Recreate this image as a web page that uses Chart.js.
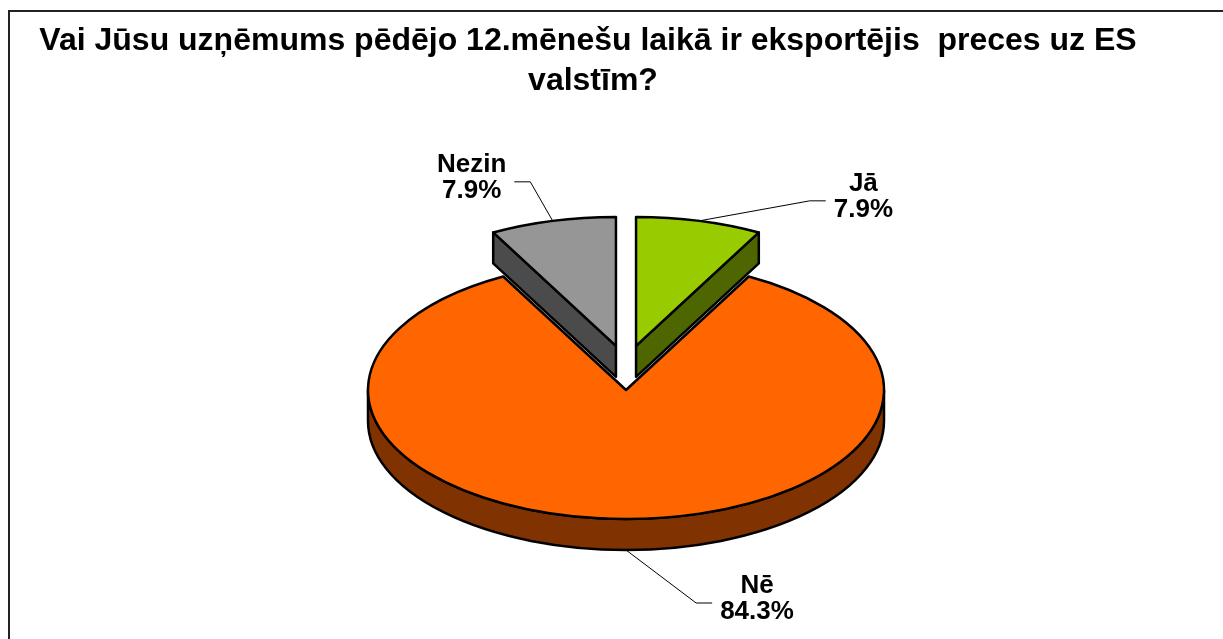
<!DOCTYPE html>
<html>
<head>
<meta charset="utf-8">
<script src="https://cdn.jsdelivr.net/npm/chart.js@4.4.1/dist/chart.umd.min.js"></script>
<style>
html,body{margin:0;padding:0;background:#fff;}
#wrap{width:1223px;height:639px;position:relative;}
</style>
</head>
<body>
<div id="wrap"><canvas id="c" width="1223" height="639"></canvas></div>
<script>
// ---- data ----
const titleLines = ['Vai Jūsu uzņēmums pēdējo 12.mēnešu laikā ir eksportējis  preces uz ES', 'valstīm?'];
const categories = ['Jā', 'Nē', 'Nezin'];
const values = [7.9, 84.3, 7.9];
const valueLabels = ['7.9%', '84.3%', '7.9%'];

// ---- styles ----
const topColors = ['#99CC00', '#FF6600', '#969696'];
const sideColors = ['#4D6600', '#803300', '#4B4B4B'];
const TILT = 0.5;        // vertical squash of the pie plane
const DEPTH = 31;        // thickness of the pie
const EXPLODE_X = 0.45;  // perspective factor for horizontal explosion
const labelShift = [[164, -24], [131, 49], [-81, -43]]; // label centre relative to slice anchor
const LABEL_FONT = 'bold 26px "Liberation Sans", Arial, sans-serif';
const LINE_H = 26;

function sliceGeom(arc) {
  const s = arc.startAngle, e = arc.endAngle, R = arc.outerRadius;
  const off = arc.options.offset || 0;
  const mid = (s + e) / 2;
  const cx = arc.x + off * Math.cos(mid) * EXPLODE_X;
  const cy = arc.y + off * Math.sin(mid) * TILT;
  return {s, e, R, mid, cx, cy, off};
}
function rim(g, a, dz) {
  return [g.cx + g.R * Math.cos(a), g.cy + TILT * g.R * Math.sin(a) + (dz || 0)];
}

const pie3d = {
  id: 'pie3d',
  beforeDatasetsDraw(chart) {
    const ctx = chart.ctx;
    const meta = chart.getDatasetMeta(0);
    const order = meta.data.map((a, i) => i).sort((a, b) =>
      (meta.data[a].options.offset || 0) - (meta.data[b].options.offset || 0));
    ctx.save();
    ctx.lineWidth = 2.5;
    ctx.lineJoin = 'round';
    ctx.strokeStyle = '#000';
    order.forEach(i => {
      const g = sliceGeom(meta.data[i]);
      const ry = TILT * g.R;
      // outer front wall
      for (let k = -1; k <= 1; k++) {
        const lo = Math.max(g.s, k * 2 * Math.PI), hi = Math.min(g.e, k * 2 * Math.PI + Math.PI);
        if (hi > lo) {
          ctx.beginPath();
          ctx.ellipse(g.cx, g.cy, g.R, ry, 0, lo, hi, false);
          ctx.ellipse(g.cx, g.cy + DEPTH, g.R, ry, 0, hi, lo, true);
          ctx.closePath();
          ctx.fillStyle = sideColors[i];
          ctx.fill();
          ctx.stroke();
        }
      }
      // radial walls
      [[g.s, g.s - Math.PI / 2], [g.e, g.e + Math.PI / 2]].forEach(([a, n]) => {
        if (Math.sin(n) > 1e-6) {
          const p = rim(g, a, 0), q = rim(g, a, DEPTH);
          ctx.beginPath();
          ctx.moveTo(g.cx, g.cy);
          ctx.lineTo(p[0], p[1]);
          ctx.lineTo(q[0], q[1]);
          ctx.lineTo(g.cx, g.cy + DEPTH);
          ctx.closePath();
          ctx.fillStyle = sideColors[i];
          ctx.fill();
          ctx.stroke();
        }
      });
      // top face
      ctx.beginPath();
      ctx.moveTo(g.cx, g.cy);
      ctx.ellipse(g.cx, g.cy, g.R, ry, 0, g.s, g.e, false);
      ctx.closePath();
      ctx.fillStyle = topColors[i];
      ctx.fill();
      ctx.stroke();
    });

    // labels with leader lines
    ctx.font = LABEL_FONT;
    ctx.textAlign = 'center';
    ctx.textBaseline = 'middle';
    meta.data.forEach((arc, i) => {
      const g = sliceGeom(arc);
      const front = Math.sin(g.mid) > 0;
      const anchor = rim(g, g.mid, front ? DEPTH : 0);
      const lx = anchor[0] + labelShift[i][0], ly = anchor[1] + labelShift[i][1];
      const lines = [categories[i], valueLabels[i]];
      const half = Math.max(...lines.map(t => ctx.measureText(t).width)) / 2;
      const side = lx > anchor[0] ? 1 : -1;
      const endX = lx - side * (half + 8);
      const elbowX = endX - side * 16;
      ctx.beginPath();
      ctx.lineWidth = 1;
      ctx.strokeStyle = '#000';
      ctx.moveTo(anchor[0], anchor[1]);
      ctx.lineTo(elbowX, ly + 4);
      ctx.lineTo(endX, ly + 4);
      ctx.stroke();
      ctx.fillStyle = '#000';
      ctx.fillText(lines[0], lx, ly - LINE_H / 2);
      ctx.fillText(lines[1], lx, ly + LINE_H / 2);
    });
    ctx.restore();
    return false;
  },
  afterDraw(chart) {
    const ctx = chart.ctx;
    ctx.save();
    ctx.strokeStyle = '#222';
    ctx.lineWidth = 2;
    ctx.strokeRect(9, 11, 1240, 660);
    ctx.fillStyle = '#000';
    ctx.font = 'bold 32px "Liberation Sans", Arial, sans-serif';
    ctx.textAlign = 'center';
    ctx.textBaseline = 'middle';
    ctx.fillText(titleLines[0], 588, 41);
    ctx.fillText(titleLines[1], 593, 81);
    ctx.restore();
  }
};

new Chart(document.getElementById('c'), {
  type: 'pie',
  data: {
    labels: categories,
    datasets: [{
      data: values,
      backgroundColor: topColors,
      borderWidth: 0,
      offset: [91, 0, 91],
      radius: 258
    }]
  },
  options: {
    responsive: false,
    animation: false,
    events: [],
    layout: { padding: { left: 129, right: 100, top: 151, bottom: 10 } },
    plugins: { legend: { display: false }, tooltip: { enabled: false }, title: { display: false } }
  },
  plugins: [pie3d]
});
</script>
</body>
</html>
